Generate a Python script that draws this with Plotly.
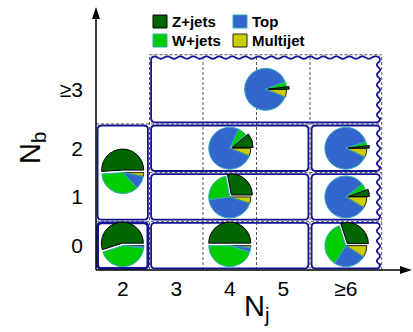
import numpy as np
import plotly.graph_objects as go

# Category axes: jet multiplicity (x) and b-tag multiplicity (y)
nj_labels = ["2", "3", "4", "5", "≥6"]
nj_edges = [1.5, 2.5, 3.5, 4.5, 5.5, 6.84]
nb_labels = ["0", "1", "2", "≥3"]
nb_edges = [-0.5, 0.5, 1.5, 2.5, 3.92]

# Each pie sits in a region spanning (first, last) categories
pie_nj = [("2", "2"), ("2", "2"), ("4", "4"), ("4", "4"), ("4", "4"),
          ("≥6", "≥6"), ("≥6", "≥6"), ("≥6", "≥6"), ("3", "≥6")]
pie_nb = [("0", "0"), ("1", "2"), ("0", "0"), ("1", "1"), ("2", "2"),
          ("0", "0"), ("1", "1"), ("2", "2"), ("≥3", "≥3")]

# Process composition in each region (%)
z_jets = [55, 51, 50, 28, 11, 30, 5.5, 2, 2]
w_jets = [43, 36, 45, 24, 7, 36, 5, 3, 4]
top = [1.2, 10, 3.5, 43, 76, 25, 81, 88, 88]
multijet = [0.8, 3, 1.5, 5, 6, 9, 8.5, 7, 6]

processes = ["Z+jets", "W+jets", "Top", "Multijet"]
fill = {"Z+jets": "#006600", "W+jets": "#00cc00", "Top": "#3366cc", "Multijet": "#cccc00"}
edge = {"Z+jets": "#000000", "W+jets": "#33aabb", "Top": "#33aabb", "Multijet": "#222222"}

# Framed regions: (Nj span, Nb span, wavy top, wavy right, border width)
box_nj = [("2", "2"), ("2", "2"), ("3", "5"), ("3", "5"), ("3", "5"),
          ("≥6", "≥6"), ("≥6", "≥6"), ("≥6", "≥6"), ("3", "≥6")]
box_nb = [("0", "0"), ("1", "2"), ("0", "0"), ("1", "1"), ("2", "2"),
          ("0", "0"), ("1", "1"), ("2", "2"), ("≥3", "≥3")]
box_wavy_top = [False] * 8 + [True]
box_wavy_right = [False] * 5 + [True] * 4
box_width = [2.8] + [1.8] * 8

# Page geometry
FIG_W, FIG_H = 413, 332
M_L, M_R, M_T, M_B = 96, 1, 7, 62
W_PLOT = FIG_W - M_L - M_R
H_PLOT = FIG_H - M_T - M_B
PX_X, PX_Y = 53.5, 48.7
x_range = [nj_edges[0], nj_edges[0] + W_PLOT / PX_X]
y_range = [nb_edges[0], nb_edges[0] + H_PLOT / PX_Y]


def dx(px):
    return px / PX_X


def dy(px):
    return px / PX_Y


def span(labels, edges, pair):
    i0 = labels.index(pair[0])
    i1 = labels.index(pair[1])
    return edges[i0], edges[i1 + 1]


def box_path(xa, xb, ya, yb, wavy_top, wavy_right, r=4.0, inset=1.6):
    xa += dx(inset); xb -= dx(inset); ya += dy(inset); yb -= dy(inset)
    rx, ry = dx(r), dy(r)
    s = f"M{xa + rx},{ya} L{xb - rx},{ya} Q{xb},{ya} {xb},{ya + ry}"
    if wavy_right:
        for yv in np.linspace(ya + ry, yb - ry, 90):
            xv = xb - dx(1.6) + dx(1.6) * np.sin(2 * np.pi * (yv - ya) * PX_Y / 10.0)
            s += f" L{xv},{yv}"
    else:
        s += f" L{xb},{yb - ry}"
    s += f" Q{xb},{yb} {xb - rx},{yb}"
    if wavy_top:
        for xv in np.linspace(xb - rx, xa + rx, 200):
            yv = yb - dy(1.2) + dy(1.2) * np.sin(2 * np.pi * (xv - xa) * PX_X / 13.0)
            s += f" L{xv},{yv}"
    else:
        s += f" L{xa + rx},{yb}"
    s += f" Q{xa},{yb} {xa},{yb - ry} L{xa},{ya + ry} Q{xa},{ya} {xa + rx},{ya} Z"
    return s


fig = go.Figure()

# Pies
R_PIE = 21.0
PULL = 0.12
half = R_PIE * (1 + PULL)
order = ["Multijet", "Top", "W+jets", "Z+jets"]
for i in range(len(pie_nj)):
    xa, xb = span(nj_labels, nj_edges, pie_nj[i])
    ya, yb = span(nb_labels, nb_edges, pie_nb[i])
    cx = ((xa + xb) / 2 - x_range[0]) * PX_X
    cy = ((ya + yb) / 2 - y_range[0]) * PX_Y
    vals = {"Z+jets": z_jets[i], "W+jets": w_jets[i], "Top": top[i], "Multijet": multijet[i]}
    fig.add_trace(go.Pie(
        labels=order,
        values=[vals[p] for p in order],
        sort=False,
        direction="clockwise",
        rotation=90,
        pull=[PULL if p == "Z+jets" else 0 for p in order],
        marker=dict(colors=[fill[p] for p in order],
                    line=dict(color=[edge[p] for p in order], width=1)),
        textinfo="none",
        hoverinfo="label+percent",
        showlegend=False,
        domain=dict(x=[(cx - half) / W_PLOT, (cx + half) / W_PLOT],
                    y=[(cy - half) / H_PLOT, (cy + half) / H_PLOT]),
    ))

shapes = []
grid_col = "#555555"
dash = "3px,2px"
x_top = nb_edges[-1]
x_last = nj_edges[-1]
# Dashed region boundaries
for xv in nj_edges[1:]:
    shapes.append(dict(type="line", xref="x", yref="y", x0=xv, x1=xv, y0=nb_edges[0], y1=x_top,
                       line=dict(color=grid_col, width=1, dash=dash), layer="below"))
for yv in nb_edges[1:]:
    x_start = nj_edges[0] if yv in (nb_edges[1], nb_edges[3]) else nj_edges[1]
    shapes.append(dict(type="line", xref="x", yref="y", x0=x_start, x1=x_last, y0=yv, y1=yv,
                       line=dict(color=grid_col, width=1, dash=dash), layer="below"))

# Rounded region frames
for i in range(len(box_nj)):
    xa, xb = span(nj_labels, nj_edges, box_nj[i])
    ya, yb = span(nb_labels, nb_edges, box_nb[i])
    shapes.append(dict(type="path", xref="x", yref="y",
                       path=box_path(xa, xb, ya, yb, box_wavy_top[i], box_wavy_right[i]),
                       line=dict(color="#141496", width=box_width[i]), fillcolor="rgba(0,0,0,0)",
                       layer="below"))

# Axis lines with arrow heads
shapes.append(dict(type="line", xref="paper", yref="paper", x0=0, x1=0, y0=0, y1=0.99,
                   line=dict(color="black", width=1.5)))
shapes.append(dict(type="line", xref="paper", yref="paper", x0=0, x1=0.99, y0=0, y1=0,
                   line=dict(color="black", width=1.5)))
shapes.append(dict(type="path", xref="paper", yref="paper", xsizemode="pixel", ysizemode="pixel",
                   xanchor=0, yanchor=1, path="M-4,-12 L4,-12 L0,0 Z",
                   fillcolor="black", line=dict(width=0)))
shapes.append(dict(type="path", xref="paper", yref="paper", xsizemode="pixel", ysizemode="pixel",
                   xanchor=1, yanchor=0, path="M-12,-4 L-12,4 L0,0 Z",
                   fillcolor="black", line=dict(width=0)))


def px_to_paper(px, py):
    return (px - M_L) / W_PLOT, (FIG_H - M_B - py) / H_PLOT


# Legend
annotations = []
legend_items = [("Z+jets", 153, 15), ("Top", 233, 15), ("W+jets", 153, 34), ("Multijet", 233, 34)]
for name, lx, ly in legend_items:
    x0, y0 = px_to_paper(lx, ly + 13)
    x1, y1 = px_to_paper(lx + 14, ly)
    shapes.append(dict(type="rect", xref="paper", yref="paper", x0=x0, x1=x1, y0=y0, y1=y1,
                       fillcolor=fill[name], line=dict(color=edge[name], width=1)))
    tx, ty = px_to_paper(lx + 17, ly + 6.5)
    annotations.append(dict(xref="paper", yref="paper", x=tx, y=ty, text=f"<b>{name}</b>",
                            showarrow=False, xanchor="left", yanchor="middle",
                            font=dict(family="Liberation Sans", size=15, color="black")))

# Axis titles
tx, ty = px_to_paper(256, 308)
annotations.append(dict(xref="paper", yref="paper", x=tx, y=ty, text="N<sub>j</sub>",
                        showarrow=False, xanchor="center", yanchor="middle",
                        font=dict(family="Liberation Sans", size=29, color="black")))
tx, ty = px_to_paper(32, 148)
annotations.append(dict(xref="paper", yref="paper", x=tx, y=ty, text="N<sub>b</sub>",
                        showarrow=False, xanchor="center", yanchor="middle", textangle=-90,
                        font=dict(family="Liberation Sans", size=29, color="black")))

nj_pos = [(nj_edges[i] + nj_edges[i + 1]) / 2 for i in range(len(nj_labels))]
nb_pos = [(nb_edges[i] + nb_edges[i + 1]) / 2 for i in range(len(nb_labels))]

fig.update_layout(
    width=FIG_W, height=FIG_H,
    margin=dict(l=M_L, r=M_R, t=M_T, b=M_B),
    paper_bgcolor="white", plot_bgcolor="white",
    showlegend=False,
    xaxis=dict(range=x_range, tickvals=nj_pos, ticktext=nj_labels, showgrid=False,
               zeroline=False, showline=False, ticks="", ticklabelstandoff=4,
               tickfont=dict(family="Liberation Sans", size=21, color="black"), fixedrange=True),
    yaxis=dict(range=y_range, tickvals=nb_pos, ticktext=nb_labels, showgrid=False,
               zeroline=False, showline=False, ticks="", ticklabelstandoff=12,
               tickfont=dict(family="Liberation Sans", size=21, color="black"), fixedrange=True),
    shapes=shapes,
    annotations=annotations,
)

fig.write_html("out.html")
